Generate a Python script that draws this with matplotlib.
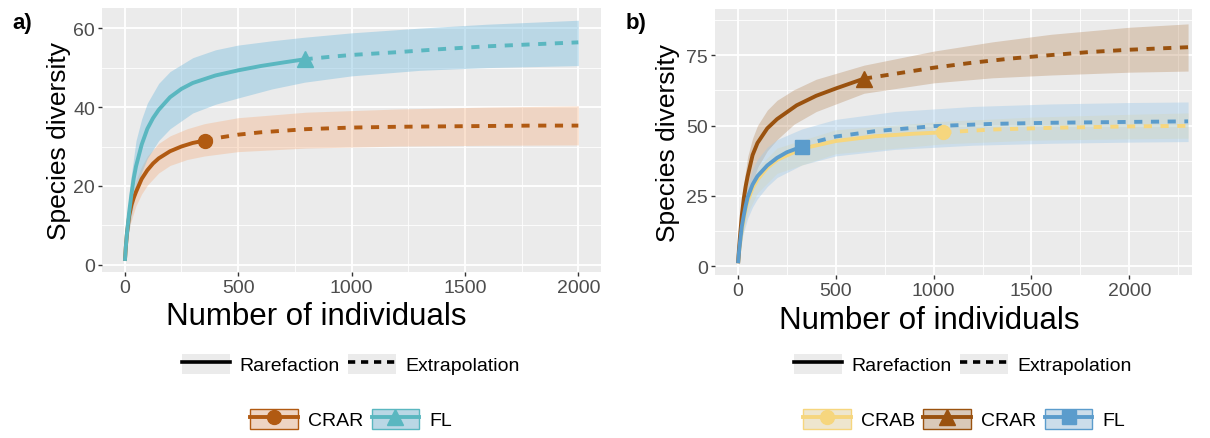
import numpy as np
import matplotlib.pyplot as plt
from matplotlib.patches import Patch
from matplotlib.lines import Line2D
from matplotlib.legend_handler import HandlerTuple
from matplotlib.colors import to_rgba
from matplotlib.ticker import MultipleLocator

plt.rcParams['font.family'] = ['Liberation Sans', 'DejaVu Sans']

# ---------------- panel a) ----------------
a_crar_rare_x = [1, 5, 10, 20, 30, 40, 50, 75, 100, 125, 150, 200, 250, 300, 352]
a_crar_rare_y = [1, 4.5, 8, 12.5, 15.2, 17, 18.5, 21.8, 24.0, 25.7, 27, 28.8, 30, 30.9, 31.5]
a_crar_ext_x = [352, 400, 500, 600, 800, 1000, 1200, 1400, 1600, 1800, 2000]
a_crar_ext_y = [31.5, 32.1, 33.0, 33.6, 34.4, 34.8, 35.0, 35.1, 35.2, 35.3, 35.3]
a_crar_rib_x = [1, 10, 25, 50, 75, 100, 150, 200, 275, 352, 500, 800, 1200, 1600, 2000]
a_crar_rib_lo = [1, 6, 10.5, 15, 18, 20.2, 23.3, 25.2, 26.7, 27.6, 28.7, 29.6, 30.1, 30.3, 30.4]
a_crar_rib_hi = [1, 10, 15.5, 21.5, 25, 27.6, 30.8, 32.7, 34.5, 35.8, 37.3, 38.7, 39.5, 40.0, 40.3]

a_fl_rare_x = [1, 5, 10, 20, 30, 40, 50, 75, 100, 125, 150, 200, 250, 300, 400, 500, 600, 700, 793]
a_fl_rare_y = [1, 4.5, 8, 13.5, 18, 22, 25, 30.5, 34.5, 37.2, 39.3, 42.5, 44.6, 46.1, 48.0, 49.3,
               50.4, 51.3, 52.1]
a_fl_ext_x = [793, 900, 1000, 1200, 1400, 1600, 1800, 2000]
a_fl_ext_y = [52.1, 52.7, 53.2, 53.9, 54.7, 55.4, 55.9, 56.4]
a_fl_rib_x = [1, 10, 25, 50, 75, 100, 150, 200, 300, 400, 500, 650, 793, 1000, 1300, 1600, 2000]
a_fl_rib_lo = [1, 5, 11, 18.5, 23.5, 27, 31.5, 34.5, 38.5, 40.7, 42.3, 44.6, 46.3, 47.9, 49.3, 50, 50.5]
a_fl_rib_hi = [1, 11, 21, 31.5, 37, 41, 46, 49, 52.5, 54.5, 55.7, 56.8, 57.7, 58.8, 60, 61, 62]

# ---------------- panel b) ----------------
b_crab_rare_x = [1, 5, 10, 20, 30, 40, 50, 75, 100, 150, 200, 327, 500, 700, 900, 1049]
b_crab_rare_y = [1, 4.3, 7.5, 13, 17, 20.5, 23.2, 27.8, 30.8, 35, 37.8, 41.8, 44.5, 46.2, 47.1, 47.6]
b_crab_ext_x = [1049, 1300, 1600, 2000, 2300]
b_crab_ext_y = [47.6, 48.6, 49.2, 49.7, 49.9]
b_crab_rib_x = [1, 10, 25, 50, 100, 200, 500, 1049, 1500, 2000, 2300]
b_crab_rib_lo = [1, 5, 12, 19, 26, 33, 40, 43.5, 44.8, 45.3, 45.5]
b_crab_rib_hi = [1, 9.5, 17.5, 26, 35, 42, 48.5, 51.5, 53, 54, 54.5]

b_crar_rare_x = [1, 5, 10, 20, 30, 40, 50, 75, 100, 150, 200, 300, 400, 500, 644]
b_crar_rare_y = [1, 5.5, 10, 18, 24, 28.5, 32, 39.5, 43.8, 49, 52.3, 57.2, 60.6, 63.2, 66.7]
b_crar_ext_x = [644, 800, 1000, 1200, 1400, 1600, 1800, 2000, 2300]
b_crar_ext_y = [66.7, 68.4, 70.6, 72.4, 73.9, 75.1, 76.2, 77.0, 77.9]
b_crar_rib_x = [1, 10, 25, 50, 75, 100, 150, 200, 287, 400, 644, 1000, 1300, 1600, 2000, 2300]
b_crar_rib_lo = [1, 6, 15, 24, 30, 35, 41, 45, 50.5, 55, 61.5, 65.2, 67, 68, 69, 69.4]
b_crar_rib_hi = [1, 13, 27, 39, 45.5, 50, 55.5, 59, 62.8, 66.5, 71.5, 76.5, 79.8, 82.5, 85, 86.2]

b_fl_rare_x = [1, 5, 10, 20, 30, 40, 50, 75, 100, 150, 200, 250, 327]
b_fl_rare_y = [1, 4.5, 8, 14, 18, 21.5, 24.5, 29, 32, 35.8, 38.5, 40.5, 42.5]
b_fl_ext_x = [327, 400, 500, 700, 1000, 1300, 1600, 2000, 2300]
b_fl_ext_y = [42.5, 44.3, 46.1, 48, 49.8, 50.6, 51, 51.3, 51.5]
b_fl_rib_x = [1, 10, 25, 50, 75, 100, 150, 200, 327, 500, 800, 1200, 1600, 2000, 2300]
b_fl_rib_lo = [1, 4, 11, 17, 21, 24, 28.3, 31.5, 36, 39.2, 41.5, 43, 43.7, 44.1, 44.3]
b_fl_rib_hi = [1, 10, 20, 29, 34.5, 38, 42.3, 45, 48.8, 52.2, 55, 56.8, 57.7, 58.2, 58.4]

legend_types = ['Rarefaction', 'Extrapolation']
a_sites = ['CRAR', 'FL']
b_sites = ['CRAB', 'CRAR', 'FL']

# colours / markers (line colour, fill colour, fill alpha, marker, marker size)
a_style = {'CRAR': ('#b15a12', '#f4b183', 0.38, 'o', 10),
           'FL': ('#5ab7c0', '#7fbfdf', 0.45, '^', 11)}
b_style = {'CRAB': ('#f6d67e', '#f5dc8c', 0.30, 'o', 10),
           'CRAR': ('#9a520f', '#b98a5e', 0.35, '^', 11),
           'FL': ('#5b9ccc', '#9ec9ea', 0.40, 's', 10)}

LW = 2.8
DASH = (2.1, 2.2)


def draw_series(ax, st, rx, ry, ex, ey, bx, blo, bhi):
    line_col, fill_col, alpha, marker, ms = st
    ax.fill_between(bx, blo, bhi, color=fill_col, alpha=alpha, lw=0, zorder=2)
    ax.plot(rx, ry, color=line_col, lw=LW, solid_capstyle='butt', zorder=4)
    ax.plot(ex, ey, color=line_col, lw=LW, dashes=DASH, zorder=4)
    ax.plot([rx[-1]], [ry[-1]], marker=marker, ms=ms, color=line_col, zorder=5)


def style_axes(ax, xlim, ylim, ymajor, yminor):
    ax.set_facecolor('#ebebeb')
    for s in ax.spines.values():
        s.set_visible(False)
    ax.xaxis.set_major_locator(MultipleLocator(500))
    ax.xaxis.set_minor_locator(MultipleLocator(250))
    ax.yaxis.set_major_locator(MultipleLocator(ymajor))
    ax.yaxis.set_minor_locator(MultipleLocator(yminor))
    ax.grid(which='major', color='white', lw=1.3)
    ax.grid(which='minor', color='white', lw=0.6)
    ax.set_axisbelow(True)
    ax.tick_params(which='major', length=3, width=1, color='#333333',
                   labelsize=14, labelcolor='#4d4d4d', pad=2)
    ax.tick_params(which='minor', length=0)
    ax.set_xlim(*xlim)
    ax.set_ylim(*ylim)


fig = plt.figure(figsize=(12.1, 4.39), dpi=100)
W, H = 1210, 439


def axes_px(l, t, r, b):
    return fig.add_axes([l / W, 1 - b / H, (r - l) / W, (b - t) / H])


ax_a = axes_px(102, 9, 601, 273)
draw_series(ax_a, a_style['CRAR'], a_crar_rare_x, a_crar_rare_y, a_crar_ext_x, a_crar_ext_y,
            a_crar_rib_x, a_crar_rib_lo, a_crar_rib_hi)
draw_series(ax_a, a_style['FL'], a_fl_rare_x, a_fl_rare_y, a_fl_ext_x, a_fl_ext_y,
            a_fl_rib_x, a_fl_rib_lo, a_fl_rib_hi)
style_axes(ax_a, (-100, 2100), (-1.8, 65.1), 20, 10)

ax_b = axes_px(715, 10, 1192, 276)
draw_series(ax_b, b_style['CRAB'], b_crab_rare_x, b_crab_rare_y, b_crab_ext_x, b_crab_ext_y,
            b_crab_rib_x, b_crab_rib_lo, b_crab_rib_hi)
draw_series(ax_b, b_style['CRAR'], b_crar_rare_x, b_crar_rare_y, b_crar_ext_x, b_crar_ext_y,
            b_crar_rib_x, b_crar_rib_lo, b_crar_rib_hi)
draw_series(ax_b, b_style['FL'], b_fl_rare_x, b_fl_rare_y, b_fl_ext_x, b_fl_ext_y,
            b_fl_rib_x, b_fl_rib_lo, b_fl_rib_hi)
style_axes(ax_b, (-117, 2320), (-3.2, 91.5), 25, 12.5)

# label anchors (axes fractions): ylabel x, xlabel x, xlabel y
for ax, ly_x, lx_x, lx_y in [(ax_a, -0.062, 0.43, -0.11), (ax_b, -0.073, 0.45, -0.113)]:
    ax.set_ylabel('Species diversity', fontsize=19)
    ax.set_xlabel('Number of individuals', fontsize=22.5)
    ax.yaxis.set_label_coords(ly_x, 0.5)
    ax.xaxis.set_label_coords(lx_x, lx_y)

fig.text(12 / W, 1 - 24 / H, 'a)', fontsize=16, fontweight='bold', va='center', ha='left')
fig.text(626 / W, 1 - 24 / H, 'b)', fontsize=16, fontweight='bold', va='center', ha='left')

# ---------------- legends ----------------
key_bg = '#ebebeb'
type_handles = [
    (Patch(facecolor=key_bg, edgecolor='none'), Line2D([], [], color='black', lw=2.6)),
    (Patch(facecolor=key_bg, edgecolor='none'), Line2D([], [], color='black', lw=2.6, dashes=(2.0, 1.6))),
]


def site_handle(st):
    line_col, fill_col, alpha, marker, ms = st
    return (Patch(facecolor=key_bg, edgecolor='none'),
            Patch(facecolor=to_rgba(fill_col, alpha), edgecolor=line_col, lw=1.0),
            Line2D([], [], color=line_col, lw=LW, marker=marker, ms=ms))


leg_kw = dict(loc='center', frameon=False, fontsize=14, handlelength=2.45,
              handleheight=1.2, handletextpad=0.5, columnspacing=0.45,
              borderpad=0, borderaxespad=0, numpoints=1,
              handler_map={tuple: HandlerTuple(ndivide=1, pad=0)})

fig.legend(type_handles, legend_types, ncol=2, bbox_to_anchor=(351 / W, 1 - 365 / H), **leg_kw)
fig.legend([site_handle(a_style[s]) for s in a_sites], a_sites, ncol=2,
           bbox_to_anchor=(351 / W, 1 - 420 / H), **leg_kw)
fig.legend(type_handles, legend_types, ncol=2, bbox_to_anchor=(963 / W, 1 - 365 / H), **leg_kw)
fig.legend([site_handle(b_style[s]) for s in b_sites], b_sites, ncol=3,
           bbox_to_anchor=(964 / W, 1 - 420 / H), **leg_kw)

fig.savefig('out.png', dpi=100)
